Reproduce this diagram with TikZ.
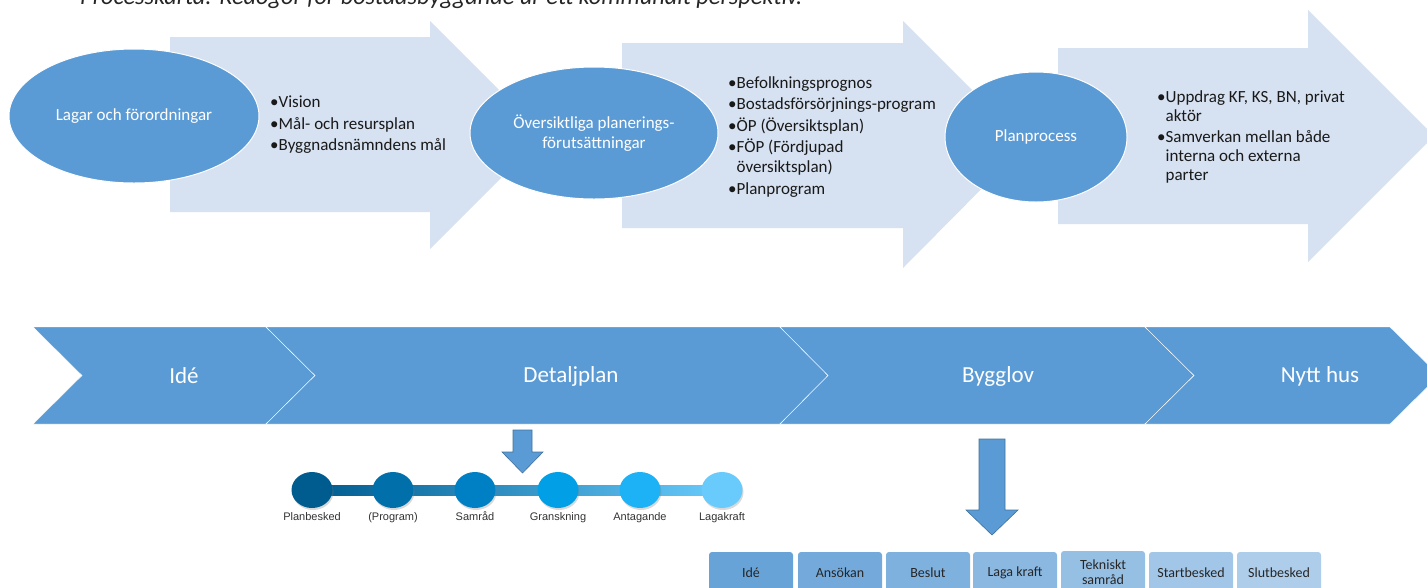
\documentclass[tikz,border=0pt]{standalone}
\usepackage{fontspec}
\setmainfont{Carlito}
\newfontfamily\arialfont{Liberation Sans}
\usepackage{tikz}
\usetikzlibrary{shapes.geometric}
\usetikzlibrary{shadows}
\usetikzlibrary{backgrounds}

\definecolor{smartblue}{HTML}{5B9BD5}
\definecolor{smartedge}{HTML}{41719C}
\definecolor{palearrow}{HTML}{D6E1F1}
\definecolor{dotA}{HTML}{005B8F}
\definecolor{dotB}{HTML}{006FAA}
\definecolor{dotC}{HTML}{0080C4}
\definecolor{dotD}{HTML}{009FE6}
\definecolor{dotE}{HTML}{1CB2F5}
\definecolor{dotF}{HTML}{68CBFB}

\begin{document}
\begin{tikzpicture}[x=1pt, y=-1pt,
    bubble/.style={ellipse, fill=smartblue, draw=white, line width=1pt, text=white, align=center, inner sep=0pt, font=\fontsize{17}{20}\selectfont},
    bullets/.style={anchor=north west, inner sep=0pt, align=left, font=\fontsize{17}{21.5}\selectfont, text=black!90},
    chevlabel/.style={text=white, font=\fontsize{23}{26}\selectfont},
    dot/.style={ellipse, minimum width=41pt, minimum height=36pt, inner sep=0pt, drop shadow={opacity=0.3, shadow xshift=1pt, shadow yshift=-2pt}},
    dotlabel/.style={text height=8pt, text depth=2pt, font=\arialfont\fontsize{11}{13}\selectfont, text=black!80},
    stepbox/.style={rounded corners=3pt, minimum width=84pt, minimum height=42pt, inner sep=1pt, align=center, font=\fontsize{14}{15}\selectfont, text=black!85}]
    \useasboundingbox (0,0) rectangle (1427,587);
    \clip (0,0) rectangle (1427,587);

    \node[anchor=base west, inner sep=0pt, font=\fontsize{24.3}{26}\selectfont\itshape, text=black!85] (title) at (80,4) {Processkarta: Redogör för bostadsbyggande ur ett kommunalt perspektiv.};

    % Step 1: laws
    \fill[palearrow] (170,37) -- (430,37) -- (430,21) -- (544,135) -- (430,249) -- (430,212) -- (170,212) -- cycle;
    \node[bubble, minimum width=250pt, minimum height=134pt] (laws) at (134,116) {Lagar och förordningar};
    \node[bullets] (lawlist) at (270,96) {•Vision\\•Mål- och resursplan\\•Byggnadsnämndens mål};

    % Step 2: overview planning
    \fill[palearrow] (622,43) -- (903,43) -- (903,21) -- (1026,144) -- (903,268) -- (903,228) -- (622,228) -- cycle;
    \node[bubble, minimum width=248pt, minimum height=132pt] (overview) at (594,133) {Översiktliga planerings-\\förutsättningar};
    \node[bullets] (overviewlist) at (728,76) {•Befolkningsprognos\\•Bostadsförsörjnings-program\\•ÖP (Översiktsplan)\\•FÖP (Fördjupad\\[-1.5pt]\phantom{•}översiktsplan)\\•Planprogram};

    % Step 3: plan process
    \fill[palearrow] (1058,48) -- (1308,48) -- (1308,10) -- (1434,136) -- (1308,262) -- (1308,224) -- (1058,224) -- cycle;
    \node[bubble, minimum width=182pt, minimum height=130pt] (planproc) at (1036,137) {Planprocess};
    \node[bullets] (planproclist) at (1157,90) {•Uppdrag KF, KS, BN, privat\\[-2.5pt]\phantom{•}aktör\\•Samverkan mellan både\\[-2.5pt]\phantom{•}interna och externa\\[-2.5pt]\phantom{•}parter};

    % chevron band
    \filldraw[fill=smartblue, draw=white] (33,327) -- (266,327) -- (315,375.5) -- (266,424) -- (33,424) -- (82,375.5) -- cycle;
    \filldraw[fill=smartblue, draw=white] (266,327) -- (780,327) -- (828,375.5) -- (780,424) -- (266,424) -- (315,375.5) -- cycle;
    \filldraw[fill=smartblue, draw=white] (780,327) -- (1145,327) -- (1194,375.5) -- (1145,424) -- (780,424) -- (828,375.5) -- cycle;
    \filldraw[fill=smartblue, draw=white] (1145,327) -- (1390,327) -- (1439,375.5) -- (1390,424) -- (1145,424) -- (1194,375.5) -- cycle;
    \node[chevlabel] (ide) at (184,376) {Idé};
    \node[chevlabel] (detaljplan) at (571,376) {Detaljplan};
    \node[chevlabel] (bygglov) at (998,376) {Bygglov};
    \node[chevlabel] (nytthus) at (1320,376) {Nytt hus};

    % block arrows down
    \filldraw[fill=smartblue, draw=smartedge, line width=0.6pt] (513,430) -- (532,430) -- (532,452) -- (543,452) -- (522.5,473) -- (502,452) -- (513,452) -- cycle;
    \filldraw[fill=smartblue, draw=smartedge, line width=0.6pt] (979,439) -- (1005,439) -- (1005,510) -- (1018,510) -- (992,535) -- (966,510) -- (979,510) -- cycle;

    % detaljplan timeline
    \node[dot, fill=dotA] (d1) at (312,490) {};
    \node[dot, fill=dotB] (d2) at (393,490) {};
    \node[dot, fill=dotC] (d3) at (475,490) {};
    \node[dot, fill=dotD] (d4) at (558,490) {};
    \node[dot, fill=dotE] (d5) at (640,490) {};
    \node[dot, fill=dotF] (d6) at (722,490) {};
    \begin{scope}[on background layer]
        \shade[left color=dotA, middle color=dotC!50!dotD, right color=dotF] ([yshift=5pt]d1.center) rectangle ([yshift=-5pt]d6.center);
    \end{scope}
    \node[dotlabel] (planbesked) at (312,517) {Planbesked};
    \node[dotlabel] (program) at (393,517) {(Program)};
    \node[dotlabel] (samrad) at (475,517) {Samråd};
    \node[dotlabel] (granskning) at (558,517) {Granskning};
    \node[dotlabel] (antagande) at (640,517) {Antagande};
    \node[dotlabel] (lagakraft) at (722,517) {Lagakraft};

    % bygglov steps
    \node[stepbox, fill=smartblue!92!white] (b1) at (751,573) {Idé};
    \node[stepbox, fill=smartblue!85!white] (b2) at (840,573) {Ansökan};
    \node[stepbox, fill=smartblue!78!white] (b3) at (928,573) {Beslut};
    \node[stepbox, fill=smartblue!71!white] (b4) at (1015,573) {Laga kraft};
    \node[stepbox, fill=smartblue!64!white] (b5) at (1103,572) {Tekniskt\\samråd};
    \node[stepbox, fill=smartblue!57!white] (b6) at (1191,573) {Startbesked};
    \node[stepbox, fill=smartblue!50!white] (b7) at (1279,573) {Slutbesked};
\end{tikzpicture}
\end{document}
